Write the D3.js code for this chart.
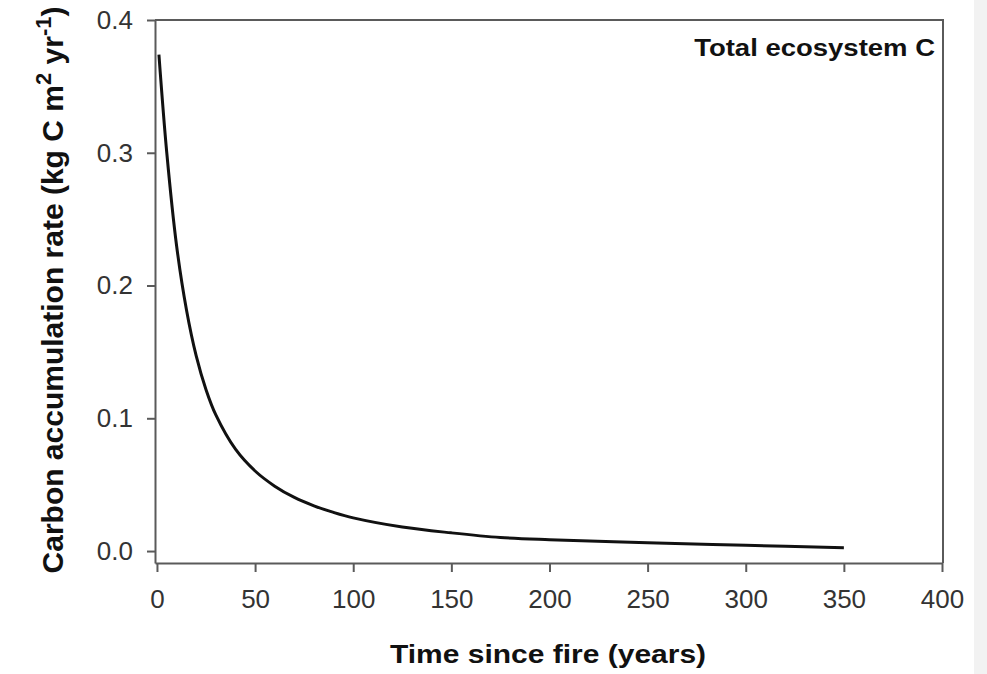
<!DOCTYPE html>
<html>
<head>
<meta charset="utf-8">
<script src="https://cdn.jsdelivr.net/npm/d3@7"></script>
<style>
  body { margin: 0; background: #fff; }
  svg { display: block; }
</style>
</head>
<body>
<div id="vis1"></div>
<script>
// years since fire
var years = [1, 5, 10, 15, 20, 25, 30, 40, 50, 60, 70, 80, 90, 100,
  125, 150, 175, 200, 250, 300, 350];
// carbon accumulation rate (kg C m-2 yr-1)
var rates = [0.374, 0.300, 0.230, 0.182, 0.147, 0.1215, 0.1025, 0.0767, 0.0603, 0.0489, 0.0404, 0.0341, 0.0291, 0.0250,
  0.0181, 0.0137, 0.0102, 0.0085, 0.0062, 0.0043, 0.0024];

var xTicks = [0, 50, 100, 150, 200, 250, 300, 350, 400];
var yTicks = [0, 0.1, 0.2, 0.3, 0.4];

var W = 987, H = 674;

var svg = d3.select("#vis1")
  .append("svg")
    .attr("width", W)
    .attr("height", H);

// light grey strip on the right edge
svg.append("rect")
  .attr("x", 974).attr("y", 0)
  .attr("width", W - 974).attr("height", H)
  .style("fill", "#f2f2f2");

var x = d3.scaleLinear()
  .domain([-1, 400])
  .range([155, 942]);

var y = d3.scaleLinear()
  .domain([-0.009, 0.4])
  .range([563, 20]);

var axisCol = "#5a5a5a";
var font = "'Liberation Sans', Arial, sans-serif";

// box top + right
svg.append("path")
  .attr("d", "M" + x(-1) + "," + y(0.4) + "H" + (x(400) + 1) + "V" + y(-0.009))
  .attr("fill", "none")
  .attr("stroke", axisCol)
  .attr("stroke-width", 2);

var xAxis = svg.append("g")
  .attr("transform", "translate(0," + y(-0.009) + ")")
  .call(d3.axisBottom(x).tickValues(xTicks).tickSize(9).tickSizeOuter(0).tickPadding(18));

var yAxis = svg.append("g")
  .attr("transform", "translate(" + x(-1) + ",0)")
  .call(d3.axisLeft(y).tickValues(yTicks).tickSize(8).tickSizeOuter(0).tickPadding(14)
    .tickFormat(d3.format(".1f")));

[xAxis, yAxis].forEach(function(g){
  g.select(".domain").attr("stroke", axisCol).attr("stroke-width", 2);
  g.selectAll(".tick line").attr("stroke", axisCol).attr("stroke-width", 2);
  g.selectAll(".tick text")
    .style("font-family", font)
    .style("font-size", "26px")
    .style("fill", "#333");
});

// the curve
svg.append("path")
  .datum(d3.zip(years, rates))
  .attr("fill", "none")
  .attr("stroke", "#111")
  .attr("stroke-width", 3)
  .attr("d", d3.line()
    .x(function(d) { return x(d[0]); })
    .y(function(d) { return y(d[1]); })
    .curve(d3.curveCatmullRom)
  );

svg.append("text")
  .attr("transform", "translate(935,56) scale(1,0.88)")
  .attr("text-anchor", "end")
  .style("font-family", font)
  .style("font-weight", "bold")
  .style("font-size", "27.5px")
  .style("fill", "#111")
  .text("Total ecosystem C");

svg.append("text")
  .attr("transform", "translate(548,663) scale(1,0.88)")
  .attr("text-anchor", "middle")
  .style("font-family", font)
  .style("font-weight", "bold")
  .style("font-size", "30px")
  .style("fill", "#111")
  .text("Time since fire (years)");

var yl = svg.append("text")
  .attr("transform", "translate(63,290) rotate(-90)")
  .attr("text-anchor", "middle")
  .style("font-family", font)
  .style("font-weight", "bold")
  .style("font-size", "30px")
  .style("fill", "#111");
yl.append("tspan").text("Carbon accumulation rate (kg C m");
yl.append("tspan").attr("dy", -12).style("font-size", "22px").text("2");
yl.append("tspan").attr("dy", 12).text(" yr");
yl.append("tspan").attr("dy", -12).style("font-size", "22px").text("-1");
yl.append("tspan").attr("dy", 12).text(")");
</script>
</body>
</html>
